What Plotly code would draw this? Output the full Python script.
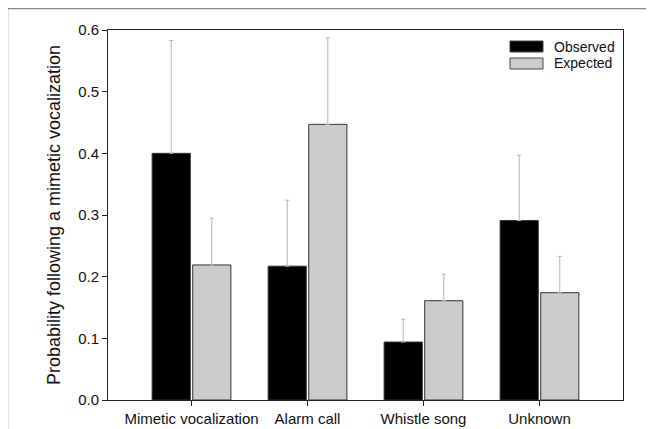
import plotly.graph_objects as go

categories = ["Mimetic vocalization", "Alarm call", "Whistle song", "Unknown"]
observed = [0.400, 0.217, 0.094, 0.291]
observed_upper = [0.583, 0.324, 0.131, 0.397]
expected = [0.219, 0.447, 0.161, 0.174]
expected_upper = [0.295, 0.587, 0.204, 0.233]
series_names = ["Observed", "Expected"]
series_colors = ["#000000", "#cccccc"]

# the page adds an 8px body margin, so the figure is 8px smaller
OFF = 8
W, H = 654 - OFF, 429 - OFF
ml, mr, mt, mb = 108 - OFF, 31, 30 - OFF, 29

def err(vals, upper):
    return dict(type="data", symmetric=False,
                array=[u - v for u, v in zip(upper, vals)],
                arrayminus=[0] * len(vals),
                color="#b3b3b3", thickness=1, width=2)

fig = go.Figure()
for name, color, vals, upper in zip(series_names, series_colors,
                                    [observed, expected],
                                    [observed_upper, expected_upper]):
    fig.add_trace(go.Bar(name=name, x=categories, y=vals,
                         marker=dict(color=color, line=dict(color="#333333", width=1)),
                         error_y=err(vals, upper)))

pw = W - ml - mr
ph = H - mt - mb
def px_x(p):  # page pixel -> paper
    return (p - OFF - ml) / pw
def px_y(p):
    return 1 - (p - OFF - mt) / ph

# outer figure frame (top and left)
fig.add_shape(type="rect", xref="paper", yref="paper",
              x0=px_x(7.5), x1=px_x(700), y0=px_y(480), y1=px_y(8.5),
              line=dict(color="#888888", width=1.5), layer="below")

# legend drawn like the original (wide swatches)
rows_y = [46.5, 63.5]
for name, color, yc in zip(series_names, series_colors, rows_y):
    fig.add_shape(type="rect", xref="paper", yref="paper",
                  x0=px_x(510), x1=px_x(543), y0=px_y(yc + 5.5), y1=px_y(yc - 5.5),
                  fillcolor=color, line=dict(color="#444444", width=1))
    fig.add_annotation(xref="paper", yref="paper", x=px_x(552), y=px_y(yc),
                       xanchor="left", yanchor="middle", showarrow=False,
                       text=name, font=dict(size=14, color="#111111"))

fig.update_layout(
    width=W, height=H,
    margin=dict(l=ml, r=mr, t=mt, b=mb, autoexpand=False),
    paper_bgcolor="white", plot_bgcolor="white",
    barmode="group", bargap=0.30, bargroupgap=0.06,
    font=dict(family="Liberation Sans, Arial, sans-serif", size=15, color="#111111"),
    showlegend=False,
    xaxis=dict(range=[-0.72, 3.72], showline=True, linecolor="#222222", linewidth=1,
               mirror=True, ticks="outside", ticklen=5, tickcolor="#222222",
               showgrid=False, tickfont=dict(size=15)),
    yaxis=dict(range=[0, 0.6], dtick=0.1, tickformat=".1f", showline=True,
               linecolor="#222222", linewidth=1, mirror=True, ticks="outside",
               ticklen=5, tickcolor="#222222", showgrid=False, zeroline=False,
               tickfont=dict(size=15),
               title=dict(text="Probability following a mimetic vocalization",
                          font=dict(size=18), standoff=12)),
)

fig.write_html("out.html")
